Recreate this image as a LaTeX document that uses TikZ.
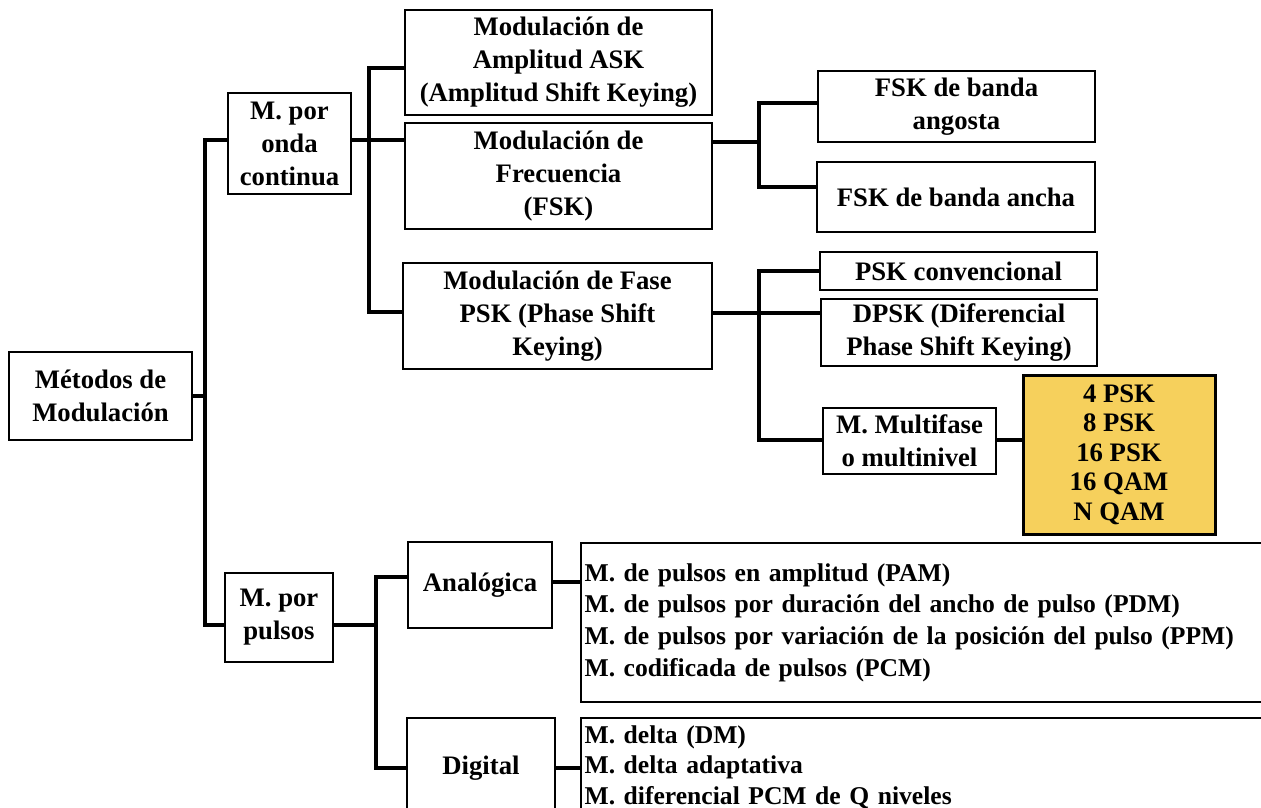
\documentclass[tikz,border=0pt]{standalone}
\usepackage{fontspec}
\setmainfont{Liberation Serif}
\usetikzlibrary{calc}
\definecolor{boxyellow}{RGB}{246,208,92}
\tikzset{
  box/.style={draw, line width=2.2pt, inner sep=0pt, align=center,
    font=\bfseries\fontsize{26.7}{33}\selectfont},
  conn/.style={line width=3.2pt},
  listbox/.style={draw, line width=2.2pt, inner ysep=0pt, inner xsep=3.5pt, align=left, anchor=west,
    text width=688pt},
}
\newcommand\mybox[7][]{\node[box,#1,minimum width={(#5-#3)*1pt},minimum height={(#6-#4)*1pt}] (#2) at ({(#3+#5)/2},{(#4+#6)/2}) {#7};}
\begin{document}
\begin{tikzpicture}[x=1pt,y=-1pt]
\useasboundingbox (0,0) rectangle (1261,808);
\fill[white] (0,0) rectangle (1261,808);
\clip (0,0) rectangle (1261,808);

% nodes
\mybox{root}{9}{352}{192}{440}{Métodos de\\Modulación}
\mybox{onda}{228}{93}{351}{194}{M. por\\onda\\continua}
\mybox{ask}{405}{10}{712}{115}{Modulación de\\Amplitud ASK\\(Amplitud Shift Keying)}
\mybox{fsk}{405}{123}{712}{229}{Modulación de\\Frecuencia\\(FSK)}
\mybox{psk}{403}{263}{712}{369}{Modulación de Fase\\PSK (Phase Shift\\Keying)}
\mybox{angosta}{818}{71}{1095}{142}{FSK de banda\\angosta}
\mybox{ancha}{817}{162}{1095}{232}{FSK de banda ancha}
\mybox{pskc}{820}{252}{1097}{290}{PSK convencional}
\mybox{dpsk}{821}{299}{1097}{366}{DPSK (Diferencial\\Phase Shift Keying)}
\mybox{multi}{823}{408}{996}{474}{M. Multifase\\o multinivel}
\mybox[fill=boxyellow,line width=3pt,font=\bfseries\fontsize{26.7}{29.5}\selectfont]{yellow}{1023}{375}{1215}{534}{4 PSK\\8 PSK\\16 PSK\\16 QAM\\N QAM}
\mybox{pulsos}{225}{573}{333}{662}{M. por\\pulsos}
\mybox{analog}{408}{542}{552}{628}{Analógica}
\mybox{digital}{407}{718}{555}{818}{Digital}

\node[listbox, minimum height=159pt, font=\bfseries\fontsize{25.6}{31.7}\selectfont] (alist) at (580,622.5)
  {M. de pulsos en amplitud (PAM)\\
   M. de pulsos por duración del ancho de pulso (PDM)\\
   M. de pulsos por variación de la posición del pulso (PPM)\\
   M. codificada de pulsos (PCM)};
\node[listbox, minimum height=98pt, font=\bfseries\fontsize{25.6}{30.5}\selectfont] (dlist) at (580,767)
  {M. delta (DM)\\
   M. delta adaptativa\\
   M. diferencial PCM de Q niveles};

% bus coordinates
\coordinate (b1) at (205,396);
\coordinate (b2) at (369,200);
\coordinate (b3) at (759,150);
\coordinate (b4) at (759,350);
\coordinate (b5) at (376,650);

% connectors
\draw[conn] (root.east) -- (root.east -| b1);
\draw[conn] (onda.west |- 0,140) -| (b1) |- (pulsos.west |- 0,625);

\draw[conn] (onda.east |- 0,140) -- (fsk.west |- 0,140);
\draw[conn] (ask.west |- 0,68) -| (b2) |- (psk.west |- 0,312);

\draw[conn] (fsk.east |- 0,142) -- (b3 |- 0,142);
\draw[conn] (angosta.west |- 0,103) -| (b3) |- (ancha.west |- 0,187);

\draw[conn] (psk.east |- 0,313) -- (dpsk.west |- 0,313);
\draw[conn] (pskc.west) -| (b4) |- (multi.west |- 0,440);
\draw[conn] (multi.east |- 0,440) -- (yellow.west |- 0,440);

\draw[conn] (pulsos.east |- 0,625) -- (b5 |- 0,625);
\draw[conn] (analog.west |- 0,577) -| (b5) |- (digital.west |- 0,768);
\draw[conn] (analog.east |- 0,582) -- (alist.west |- 0,582);
\draw[conn] (digital.east |- 0,768) -- (dlist.west |- 0,768);
\end{tikzpicture}
\end{document}
